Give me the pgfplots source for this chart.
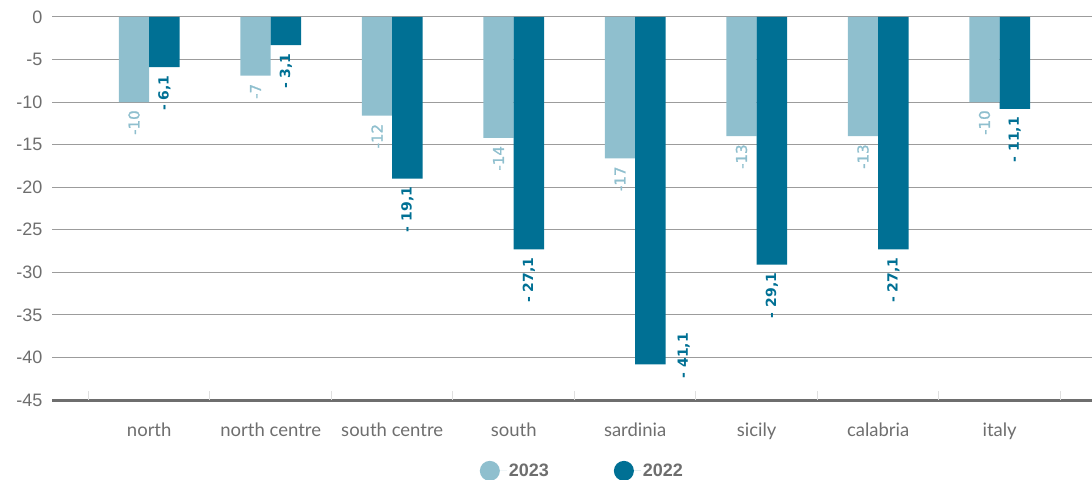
\documentclass[border=0pt]{standalone}
\usepackage{pgfplots}
\pgfplotsset{compat=1.18}
\usepackage{fontspec}
\setmainfont{Liberation Sans}
\newfontfamily\lato{Lato}
\newfontfamily\dejavu{DejaVu Sans}
\newfontfamily\dejavusemi[FakeBold=1.2]{DejaVu Sans}
\definecolor{light}{HTML}{8FBFCE}
\definecolor{dark}{HTML}{007094}
\definecolor{txt}{HTML}{6E6E6E}
\definecolor{gridc}{HTML}{9C9C9C}
\begin{document}
\begin{tikzpicture}
\begin{axis}[
  name=ax,
  scale only axis, width=1040pt, height=383pt,
  xmin=-0.8, xmax=7.76, ymin=-45, ymax=0,
  axis x line*=bottom, axis y line*=left,
  y axis line style={draw=none},
  x axis line style={line width=3pt, color=txt},
  ytick={-45,-40,...,0},
  yticklabel={\pgfmathparse{int(\tick)}\pgfmathresult},
  yticklabel style={font=\fontsize{18}{18}\selectfont, color=txt, xshift=-6pt},
  major tick length=0pt,
  ymajorgrids, grid style={draw=gridc, line width=1pt},
  xtick={0,...,7},
  xticklabels={north, north centre, south centre, south, sardinia, sicily, calabria, italy},
  xticklabel style={font=\lato\fontsize{18.5}{18.5}\selectfont, color=txt, yshift=-19pt},
  extra x ticks={-0.5,0.5,...,7.5},
  extra x tick labels={},
  extra x tick style={major tick length=9pt, tick align=inside, tick style={draw=gray!25, line width=1pt}, grid=none},
  legend image code/.code={\fill[#1] (10pt,0pt) circle (10pt); \path (0pt,0pt) -- (27pt,0pt);},
  legend style={at={(0.51,-0.185)}, anchor=center, draw=none, legend columns=2,
    font=\bfseries\fontsize{18}{18}\selectfont, text=txt,
    /tikz/every even column/.append style={column sep=63pt}},
]
\addplot[ybar, bar width=0.25, bar shift=0pt, fill=light, draw=none,
  nodes near coords, point meta=explicit symbolic,
  every node near coord/.append style={rotate=90, anchor=east, inner xsep=8pt, inner ysep=0pt,
    font=\dejavusemi\fontsize{15}{15}\selectfont, color=light}]
  coordinates {(-0.125,-10.0) [-10] (0.875,-6.9) [-7] (1.875,-11.6) [-12] (2.875,-14.2) [-14]
               (3.875,-16.6) [-17] (4.875,-14.0) [-13] (5.875,-14.0) [-13] (6.875,-10.0) [-10]};
\addlegendentry{2023}
\addplot[ybar, bar width=0.25, bar shift=0pt, fill=dark, draw=none,
  nodes near coords, point meta=explicit symbolic,
  every node near coord/.append style={rotate=90, anchor=east, inner xsep=8pt, inner ysep=0pt,
    font=\dejavu\bfseries\fontsize{14}{14}\selectfont, color=dark}]
  coordinates {(0.125,-5.9) [- 6,1] (1.125,-3.3) [- 3,1] (2.125,-19.0) [- 19,1] (3.125,-27.3) [- 27,1]
               (4.125,-40.8) [{}] (5.125,-29.1) [- 29,1] (6.125,-27.3) [- 27,1] (7.125,-10.8) [- 11,1]};
\addlegendentry{2022}
\node[rotate=90, anchor=east, inner sep=0pt, font=\dejavu\bfseries\fontsize{14}{14}\selectfont, text=dark]
  at (axis cs:4.40,-37.1) {- 41,1};
\end{axis}
\pgfresetboundingbox
\path[use as bounding box] ([xshift=-52pt,yshift=-79pt]ax.south west) rectangle ([yshift=17pt]ax.north east);
\end{tikzpicture}
\end{document}
